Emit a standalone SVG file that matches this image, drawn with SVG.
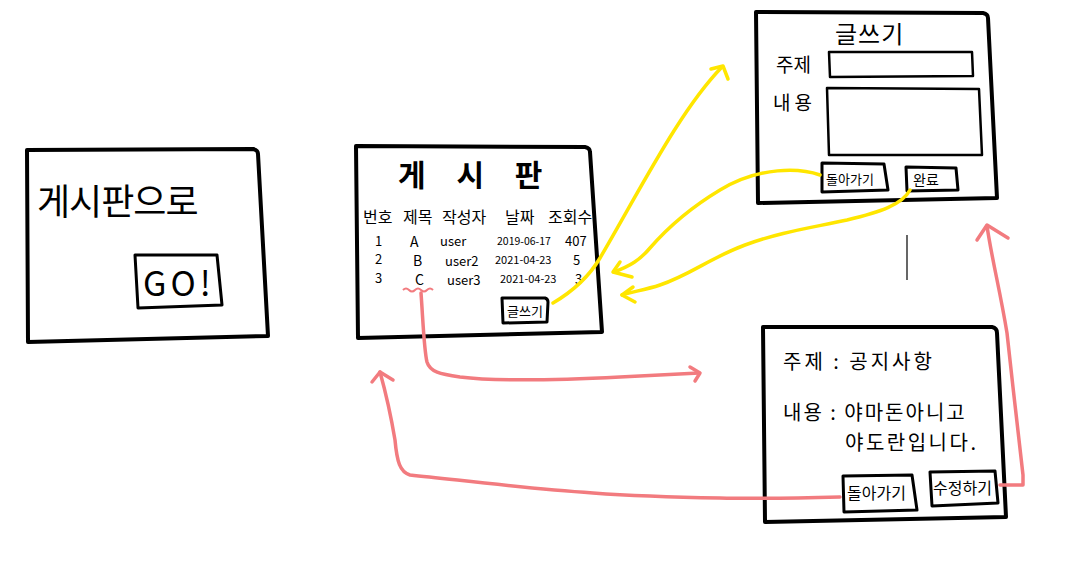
<svg xmlns="http://www.w3.org/2000/svg" width="1082" height="580" viewBox="0 0 1082 580">
<style>
.box{fill:none;stroke:#000;stroke-width:4;stroke-linejoin:round;stroke-linecap:round}
.btn{fill:none;stroke:#000;stroke-width:3;stroke-linejoin:round;stroke-linecap:round}
.inp{fill:none;stroke:#000;stroke-width:2.5;stroke-linejoin:round}
.t{font-family:"Noto Sans CJK KR","Noto Sans",sans-serif;fill:#000}
.y{fill:none;stroke:#FFE600;stroke-width:3.5;stroke-linecap:round;stroke-linejoin:round}
.r{fill:none;stroke:#F27B7F;stroke-width:3.5;stroke-linecap:round;stroke-linejoin:round}
</style>
<rect width="1082" height="580" fill="#fff"/>
<g id="start">
<path class="box" d="M27,150 L253,149 Q258,150 258,154 L268,336 L28,342 Z"/>
<text class="t" x="37" y="215" font-size="36" letter-spacing="-1">게시판으로</text>
<g id="go-btn">
<path class="btn" d="M135,255 L217,255 L222,305 L138,308 Z"/>
<text class="t" x="143" y="296" font-size="34" letter-spacing="4">GO!</text>
</g>
</g>
<g id="board">
<path class="box" d="M356,146 L585,147 Q590,148 590,152 L602,332 L358,338 Z"/>
<text class="t" x="398" y="186" font-size="30" font-weight="bold" letter-spacing="12">게 시 판</text>
<g class="t" font-size="16">
<text x="363" y="223">번호</text>
<text x="403" y="223">제목</text>
<text x="442" y="223">작성자</text>
<text x="505" y="223">날짜</text>
<text x="548" y="223">조회수</text>
</g>
<g class="t" font-size="13">
<text x="375" y="246">1</text>
<text x="410" y="247" font-size="14">A</text>
<text x="440" y="246">user</text>
<text x="497" y="245" font-size="10.5">2019-06-17</text>
<text x="565" y="246">407</text>
<text x="375" y="264">2</text>
<text x="413" y="266" font-size="14">B</text>
<text x="445" y="266">user2</text>
<text x="495" y="264" font-size="11">2021-04-23</text>
<text x="573" y="265">5</text>
<text x="375" y="283">3</text>
<text x="415" y="285" font-size="14">C</text>
<text x="447" y="285">user3</text>
<text x="500" y="283" font-size="11">2021-04-23</text>
<text x="575" y="284">3</text>
</g>
<path d="M403,290 q3,-3 6,0 q3,3 6,0 q3,-3 6,0 q3,3 6,0 q3,-3 6,0" fill="none" stroke="#F27B7F" stroke-width="2"/>
<g id="write-btn">
<path class="btn" d="M502,298 L545,298 Q548,299 548,302 L547,322 L503,323 Z"/>
<text class="t" x="507" y="316" font-size="13">글쓰기</text>
</g>
</g>
<g id="write">
<path class="box" d="M756,12 L983,13 Q988,14 988,18 L997,198 L758,203 Z"/>
<text class="t" x="835" y="43" font-size="24" letter-spacing="1">글쓰기</text>
<text class="t" x="776" y="72" font-size="19">주제</text>
<path class="inp" d="M829,52 L972,52 L973,76 L830,77 Z"/>
<text class="t" x="773" y="110" font-size="19" letter-spacing="4">내용</text>
<path class="inp" d="M827,88 L979,89 L982,155 L829,155 Z"/>
<g id="write-back">
<path class="btn" d="M822,163 L884,164 L888,190 L822,192 Z"/>
<text class="t" x="826" y="184" font-size="13">돌아가기</text>
</g>
<g id="write-done">
<path class="btn" d="M906,167 L956,168 L958,190 L907,191 Z"/>
<text class="t" x="913" y="185" font-size="14">완료</text>
</g>
</g>
<g id="detail">
<path class="box" d="M763,327 L992,327 Q997,328 997,333 L1006,517 L765,522 Z"/>
<text class="t" x="783" y="369" font-size="20" letter-spacing="3" xml:space="preserve">주제 : 공지사항</text>
<text class="t" x="783" y="420" font-size="20" letter-spacing="2" xml:space="preserve">내용 : 야마돈아니고</text>
<text class="t" x="845" y="450" font-size="20" letter-spacing="2.5">야도란입니다.</text>
<g id="detail-back">
<path class="btn" d="M843,476 L912,475 L917,510 L844,512 Z"/>
<text class="t" x="847" y="499" font-size="16">돌아가기</text>
</g>
<g id="detail-edit">
<path class="btn" d="M930,472 L995,471 L998,503 L932,506 Z"/>
<text class="t" x="933" y="494" font-size="16">수정하기</text>
</g>
</g>
<line x1="907" y1="235" x2="907" y2="280" stroke="#000" stroke-width="1.2"/>
<g id="connectors">
<path class="y" d="M553,303 C575,290 590,275 600,258 C640,190 680,110 722,67"/>
<path class="y" d="M711,69 L723,66 L728,79"/>
<path class="y" d="M820,175 C800,168 760,166 720,190 C690,208 670,225 650,248 C640,260 630,266 614,272"/>
<path class="y" d="M620,262 L613,272 L632,277"/>
<path class="y" d="M910,190 C902,205 880,212 847,220 C810,228 780,232 745,245 C710,258 690,275 660,285 C645,290 630,292 622,295"/>
<path class="y" d="M633,287 L622,295 L635,302"/>
<path class="r" d="M421,293 C423,320 424,350 427,362 C430,372 440,374 460,377 C500,382 560,380 620,377 C660,375 680,374 699,373"/>
<path class="r" d="M690,367 L700,373 L695,381"/>
<path class="r" d="M840,497 C800,498 760,499 720,498 C660,497 620,495 593,493 C520,488 460,480 410,475 C400,472 397,462 395,440 C390,410 385,390 380,372"/>
<path class="r" d="M372,382 L380,372 L393,380"/>
<path class="r" d="M1000,485 L1023,485 L1023,475 C1018,430 1012,380 1007,333 C1000,290 992,260 987,226"/>
<path class="r" d="M977,240 L987,225 L1008,238"/>
</g>
</svg>
